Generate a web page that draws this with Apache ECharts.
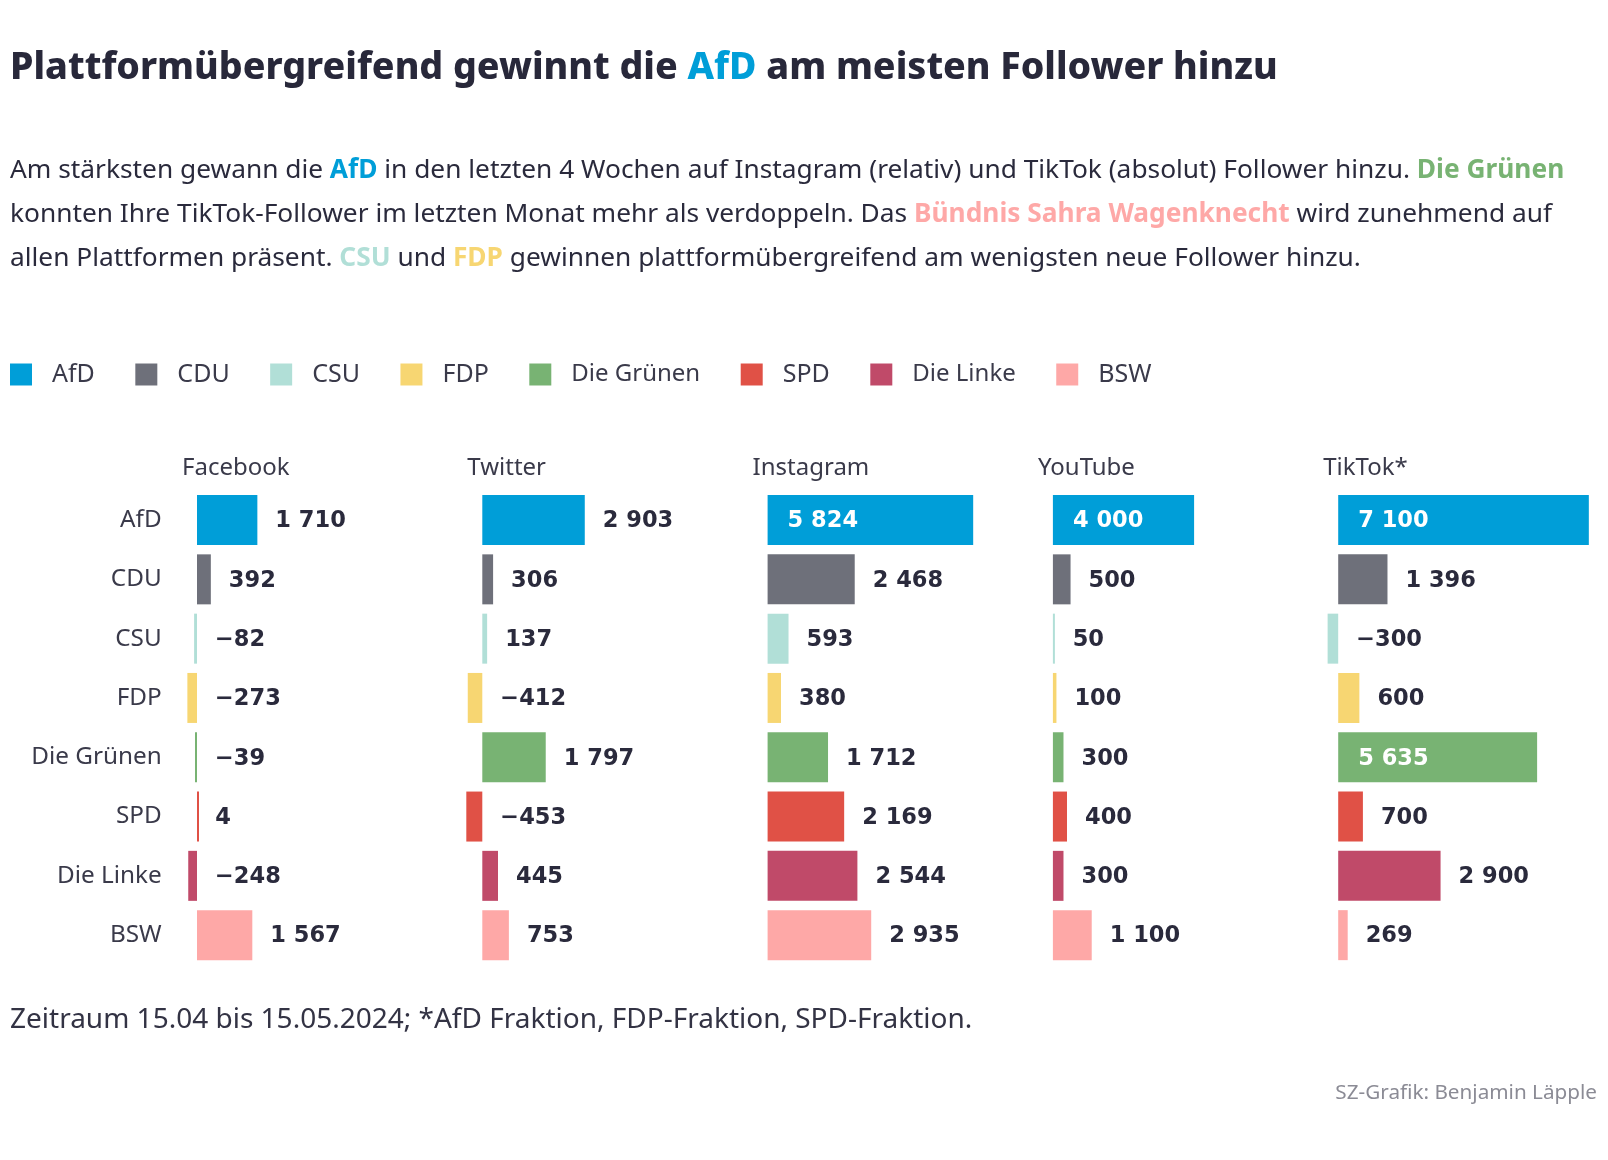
<!DOCTYPE html>
<html>
<head>
<meta charset="utf-8">
<script src="https://cdn.jsdelivr.net/npm/echarts@6/dist/echarts.min.js"></script>
<style>
html,body{margin:0;padding:0;background:#fff;}
#chart{width:1608px;height:1160px;}
</style>
</head>
<body>
<div id="chart"></div>
<script>
const categories = ['AfD', 'CDU', 'CSU', 'FDP', 'Die Grünen', 'SPD', 'Die Linke', 'BSW'];
const platforms = ['Facebook', 'Twitter', 'Instagram', 'YouTube', 'TikTok*'];
const facebook = [1710, 392, -82, -273, -39, 4, -248, 1567];
const twitter = [2903, 306, 137, -412, 1797, -453, 445, 753];
const instagram = [5824, 2468, 593, 380, 1712, 2169, 2544, 2935];
const youtube = [4000, 500, 50, 100, 300, 400, 300, 1100];
const tiktok = [7100, 1396, -300, 600, 5635, 700, 2900, 269];
const partyColors = ['#009ed8', '#6e707a', '#b1dfd7', '#f7d672', '#78b373', '#e05146', '#c04a69', '#fea8a7'];

const allValues = [facebook, twitter, instagram, youtube, tiktok];

const TEXT = '#2a2a3c';
const FONT = 'Noto Sans';
const xMin = -1000, xMax = 7200;
const s = 0.0353;              // px per follower
const zeros = platforms.map((p, i) => 197 + 285.3 * i);
const gridTop = 490.4, gridHeight = 474.4;
const insideThreshold = 3500;

function fmt(v) {
  const a = Math.abs(v).toString().replace(/\B(?=(\d{3})+(?!\d))/g, ' ');
  return (v < 0 ? '\u2212' : '') + a;
}

const grids = [], xAxes = [], yAxes = [], series = [], titles = [];

titles.push({
  left: 10, top: 46, padding: 0,
  text: '{a|Plattformübergreifend gewinnt die }{b|AfD}{a| am meisten Follower hinzu}',
  textStyle: {
    rich: {
      a: {fontFamily: FONT, fontWeight: 800, fontSize: 37.5, color: '#28283a', lineHeight: 44},
      b: {fontFamily: FONT, fontWeight: 800, fontSize: 37.5, color: partyColors[0], lineHeight: 44}
    }
  }
});

const bodyBase = {fontFamily: FONT, fontWeight: 'normal', fontSize: 26.3, color: TEXT, lineHeight: 44};
const bodyRich = {
  t: bodyBase,
  afd: Object.assign({}, bodyBase, {fontWeight: 'bold', color: partyColors[0]}),
  gr: Object.assign({}, bodyBase, {fontWeight: 'bold', color: partyColors[4]}),
  bsw: Object.assign({}, bodyBase, {fontWeight: 'bold', color: partyColors[7]}),
  csu: Object.assign({}, bodyBase, {fontWeight: 'bold', color: partyColors[2]}),
  fdp: Object.assign({}, bodyBase, {fontWeight: 'bold', color: partyColors[3]})
};
titles.push({
  left: 10, top: 149, padding: 0,
  text: '{t|Am stärksten gewann die }{afd|AfD}{t| in den letzten 4 Wochen auf Instagram (relativ) und TikTok (absolut) Follower hinzu. }{gr|Die Grünen}\n' +
        '{t|konnten Ihre TikTok-Follower im letzten Monat mehr als verdoppeln. Das }{bsw|Bündnis Sahra Wagenknecht}{t| wird zunehmend auf}\n' +
        '{t|allen Plattformen präsent. }{csu|CSU}{t| und }{fdp|FDP}{t| gewinnen plattformübergreifend am wenigsten neue Follower hinzu.}',
  textStyle: {fontWeight: 'normal', rich: bodyRich}
});

titles.push({
  left: 10, top: 1005, padding: 0,
  text: 'Zeitraum 15.04 bis 15.05.2024; *AfD Fraktion, FDP-Fraktion, SPD-Fraktion.',
  textStyle: {fontFamily: FONT, fontWeight: 'normal', fontSize: 28, color: '#333344', lineHeight: 30}
});
titles.push({
  right: 11, top: 1081, padding: 0,
  text: 'SZ-Grafik: Benjamin Läpple',
  textStyle: {fontFamily: FONT, fontWeight: 'normal', fontSize: 20.7, color: '#8b8b95', lineHeight: 24}
});

platforms.forEach((p, i) => {
  const vals = allValues[i];
  const z = zeros[i];
  titles.push({
    left: z - 15, top: 454, padding: 0,
    text: p,
    textStyle: {fontFamily: FONT, fontWeight: 'normal', fontSize: 24, color: '#3a3a4a', lineHeight: 28}
  });
  grids.push({left: z - (0 - xMin) * s, width: (xMax - xMin) * s, top: gridTop, height: gridHeight, containLabel: false});
  xAxes.push({type: 'value', gridIndex: i, min: xMin, max: xMax, show: false});
  yAxes.push({
    type: 'category', gridIndex: i, data: categories, inverse: true,
    axisLine: {show: false, onZero: false}, axisTick: {show: false}, splitLine: {show: false},
    axisLabel: {show: i === 0, margin: 0, fontFamily: FONT, fontSize: 24.3, color: '#3a3a4a', padding: [3, 0, 0, 0]}
  });
  series.push({
    type: 'bar', name: p, xAxisIndex: i, yAxisIndex: i,
    barWidth: 50, barMinHeight: 2, barGap: '-100%', silent: true,
    data: vals.map((v, j) => ({value: v, itemStyle: {color: partyColors[j]}})),
    label: {show: false}
  });
  series.push({
    type: 'bar', name: p + ' labels', xAxisIndex: i, yAxisIndex: i,
    barWidth: 50, barGap: '-100%', silent: true,
    itemStyle: {color: 'rgba(0,0,0,0)'},
    data: vals.map((v) => {
      const inside = v >= insideThreshold;
      return {
        value: Math.max(v, 0),
        label: {
          show: true,
          position: inside ? 'insideLeft' : 'right',
          distance: inside ? 20 : 18,
          offset: [0, 1.5],
          formatter: () => fmt(v),
          fontFamily: 'DejaVu Sans', fontWeight: 'bold', fontSize: 22.5,
          color: inside ? '#ffffff' : TEXT
        }
      };
    })
  });
});

categories.forEach((c, j) => {
  series.push({type: 'scatter', name: c, xAxisIndex: 0, yAxisIndex: 0, data: [], itemStyle: {color: partyColors[j], opacity: 1}});
});

const legendData = categories.map((c) => (c.length > 5 ? {name: c, textStyle: {fontSize: 24}} : {name: c}));

const chart = echarts.init(document.getElementById('chart'), null, {renderer: 'canvas'});
chart.setOption({
  backgroundColor: '#ffffff',
  animation: false,
  title: titles,
  legend: {
    data: legendData,
    left: 10, top: 362, padding: 0,
    icon: 'rect', itemWidth: 22, itemHeight: 22, itemGap: 40.5,
    selectedMode: false,
    itemStyle: {opacity: 1},
    textStyle: {fontFamily: FONT, fontSize: 25, color: '#3a3a4a', padding: [0, 0, 0, 15]}
  },
  grid: grids,
  xAxis: xAxes,
  yAxis: yAxes,
  series: series
});
</script>
</body>
</html>
